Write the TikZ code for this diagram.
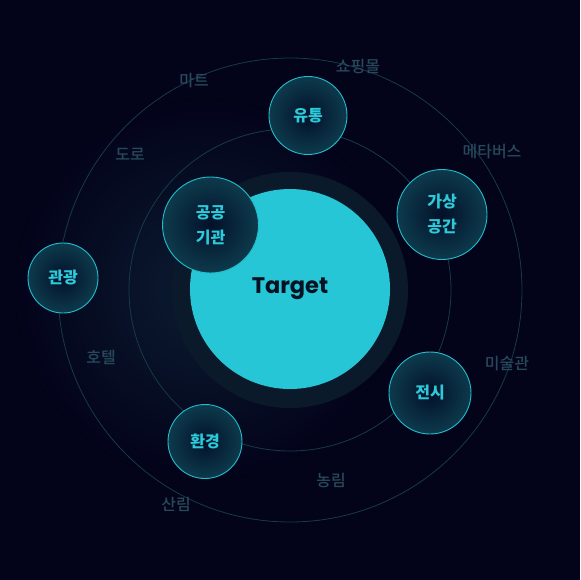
\documentclass[tikz,border=0pt]{standalone}
\usepackage{fontspec}
\setmainfont{Noto Sans CJK KR}
\newfontfamily\krmedium{Noto Sans CJK KR Medium}
\newfontfamily\latinfont{Poppins}
\definecolor{bg}{HTML}{03031A}
\definecolor{glow}{HTML}{0B1C31}
\definecolor{ring}{HTML}{0B1A2B}
\definecolor{orbitline}{HTML}{173A4A}
\definecolor{target}{HTML}{26C6D6}
\definecolor{targettext}{HTML}{061222}
\definecolor{cyanline}{HTML}{22BDCC}
\definecolor{cyantext}{HTML}{2DCADA}
\definecolor{nodein}{HTML}{03112A}
\definecolor{nodeout}{HTML}{0D3A4C}
\definecolor{graytext}{HTML}{27495B}
\begin{document}
\begin{tikzpicture}[x=1pt,y=-1pt]
\tikzstyle{orbit}=[draw=orbitline, line width=0.8pt]
\tikzstyle{topic}=[circle, inner sep=0pt, draw=cyanline, line width=0.9pt, inner color=nodein, outer color=nodeout, text=cyantext, align=center, font=\bfseries\fontsize{16}{25}\selectfont]
\tikzstyle{keyword}=[text=graytext, inner sep=0pt, font=\krmedium\fontsize{16}{18}\selectfont]
  \fill[bg] (0,0) rectangle (580,580);
  \fill[inner color=glow, outer color=bg] (205,290) circle [radius=190pt];
  \draw[orbit] (290,290) circle [radius=232pt];
  \draw[orbit] (290,290) circle [radius=161pt];
  \fill[ring] (290,290) circle [radius=118pt];
  \node[circle, inner sep=0pt, minimum size=200pt, fill=target, text=targettext, font=\latinfont\bfseries\fontsize{22.5}{26}\selectfont] (target) at (290,289) {Target};
  % topics on the orbits
  \node[topic, minimum size=96pt] (public) at (210.5,225) {공공\\기관};
  \node[topic, minimum size=78pt] (retail) at (308,115.5) {유통};
  \node[topic, minimum size=90pt] (virtual) at (442,214.5) {가상\\공간};
  \node[topic, minimum size=70pt] (tour) at (63,278) {관광};
  \node[topic, minimum size=82pt] (expo) at (430,393) {전시};
  \node[topic, minimum size=74pt] (nature) at (205,441.5) {환경};
  % keywords
  \node[keyword] (mart) at (194,81) {마트};
  \node[keyword] (mall) at (358,67) {쇼핑몰};
  \node[keyword] (meta) at (492,152) {메타버스};
  \node[keyword] (road) at (130,154) {도로};
  \node[keyword] (hotel) at (101,357) {호텔};
  \node[keyword] (museum) at (507,364) {미술관};
  \node[keyword] (farm) at (331,480) {농림};
  \node[keyword] (forest) at (176,504) {산림};
\end{tikzpicture}
\end{document}
